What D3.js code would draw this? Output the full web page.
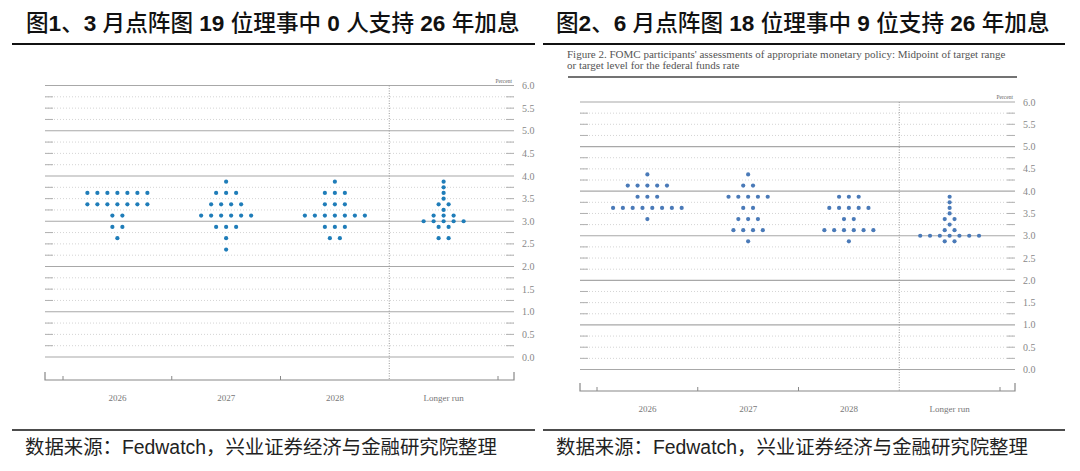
<!DOCTYPE html>
<html>
<head>
<meta charset="utf-8">
<script src="https://cdn.jsdelivr.net/npm/d3@7"></script>
<style>
  body { margin: 0; background: #fff; }
  svg { display: block; }
</style>
</head>
<body>
<div class="chart"></div>
<script>
const years = ["2026", "2027", "2028", "Longer run"]
const yTicks = [0, 0.5, 1, 1.5, 2, 2.5, 3, 3.5, 4, 4.5, 5, 5.5, 6]

// [midpoint, number of participants]
const march2026 = [[3.625, 7], [3.375, 7], [3.125, 2], [2.875, 2], [2.625, 1]]
const march2027 = [[3.875, 1], [3.625, 3], [3.375, 4], [3.125, 6], [2.875, 3], [2.625, 1], [2.375, 1]]
const march2028 = [[3.875, 1], [3.625, 3], [3.375, 3], [3.125, 7], [2.875, 3], [2.625, 2]]
const marchLonger = [[3.875, 1], [3.75, 1], [3.625, 1], [3.5, 1], [3.375, 2], [3.25, 1], [3.125, 3], [3.0, 5], [2.875, 2], [2.625, 2]]

const june2026 = [[4.375, 1], [4.125, 5], [3.875, 3], [3.625, 8], [3.375, 1]]
const june2027 = [[4.375, 1], [4.125, 2], [3.875, 5], [3.625, 2], [3.375, 3], [3.125, 4], [2.875, 1]]
const june2028 = [[3.875, 3], [3.625, 5], [3.375, 2], [3.125, 6], [2.875, 1]]
const juneLonger = [[3.875, 1], [3.75, 1], [3.625, 1], [3.5, 1], [3.375, 2], [3.25, 1], [3.125, 2], [3.0, 7], [2.875, 2]]

const title1 = [["图", false], ["1", true], ["、", false], ["3", true], [" 月点阵图 ", false], ["19", true], [" 位理事中 ", false], ["0", true], [" 人支持 ", false], ["26", true], [" 年加息", false]]
const title2 = [["图", false], ["2", true], ["、", false], ["6", true], [" 月点阵图 ", false], ["18", true], [" 位理事中 ", false], ["9", true], [" 位支持 ", false], ["26", true], [" 年加息", false]]
const figureNote = ["Figure 2. FOMC participants' assessments of appropriate monetary policy: Midpoint of target range",
                    "or target level for the federal funds rate"]
const source = "数据来源：Fedwatch，兴业证券经济与金融研究院整理"

const svg = d3.select(".chart").append("svg")
    .attr("width", 1080)
    .attr("height", 471)

const fmt = d3.format(".1f")
const gridValues = d3.range(0, 6.001, 0.25)

function DotPlot(cfg) {
    const g = svg.append("g")

    // header
    const t = g.append("text")
        .attr("x", cfg.titleX)
        .attr("y", 31)
        .attr("font-family", "'Liberation Sans', 'Noto Sans CJK SC', sans-serif")
        .attr("font-size", 22.6)
        .attr("fill", "#111")
    t.selectAll("tspan").data(cfg.title).join("tspan")
        .attr("font-weight", d => d[1] ? "bold" : 500)
        .attr("xml:space", "preserve")
        .text(d => d[0])

    g.append("line")
        .attr("x1", cfg.ruleX[0]).attr("x2", cfg.ruleX[1])
        .attr("y1", 44).attr("y2", 44)
        .attr("stroke", "#111").attr("stroke-width", 2)

    let x = d3.scaleBand()
        .domain(years)
        .range(cfg.bandRange)
        .paddingInner(0).paddingOuter(0)

    let y = d3.scaleLinear()
        .domain([0, 6])
        .range(cfg.yRange)

    const left = cfg.plotX[0], right = cfg.plotX[1]

    // horizontal grid
    gridValues.forEach(v => {
        if (v % 1 === 0) {
            g.append("line")
                .attr("x1", left).attr("x2", right)
                .attr("y1", y(v)).attr("y2", y(v))
                .attr("stroke", "#a8a8a8").attr("stroke-width", 1.2)
        } else {
            g.append("line")
                .attr("x1", left).attr("x2", right)
                .attr("y1", y(v)).attr("y2", y(v))
                .attr("stroke", "#d4d4d4").attr("stroke-width", 1)
                .attr("stroke-dasharray", "1,2")
            g.append("line")
                .attr("x1", left).attr("x2", left + 8)
                .attr("y1", y(v)).attr("y2", y(v))
                .attr("stroke", "#b0b0b0").attr("stroke-width", 1)
            g.append("line")
                .attr("x1", right - 8).attr("x2", right)
                .attr("y1", y(v)).attr("y2", y(v))
                .attr("stroke", "#b0b0b0").attr("stroke-width", 1)
        }
    })

    g.selectAll(".ylab").data(yTicks).join("text")
        .attr("x", right + 8)
        .attr("y", d => y(d) + 3.5)
        .attr("font-family", "'Liberation Serif', serif")
        .attr("font-size", 10)
        .attr("fill", "#888")
        .text(d => fmt(d))

    g.append("text")
        .attr("x", right - 2)
        .attr("y", y(6) - 3)
        .attr("text-anchor", "end")
        .attr("font-family", "'Liberation Serif', serif")
        .attr("font-size", 5.5)
        .attr("fill", "#666")
        .text("Percent")

    // divider before longer run
    g.append("line")
        .attr("x1", x("Longer run")).attr("x2", x("Longer run"))
        .attr("y1", y(6)).attr("y2", cfg.axisY)
        .attr("stroke", "#999").attr("stroke-width", 1)
        .attr("stroke-dasharray", "1,1.5")

    // bottom axis bracket
    g.append("path")
        .attr("d", `M${left},${cfg.axisY - 8}V${cfg.axisY}H${right}V${cfg.axisY - 8}`)
        .attr("fill", "none").attr("stroke", "#888").attr("stroke-width", 1.2)
    const edges = years.map(d => x(d)).concat([x(years[3]) + x.bandwidth()])
    g.selectAll(".xtick").data(edges.filter((d, i) => i !== 3)).join("line")
        .attr("x1", d => d).attr("x2", d => d)
        .attr("y1", cfg.axisY - 4).attr("y2", cfg.axisY)
        .attr("stroke", "#888").attr("stroke-width", 1)

    g.selectAll(".xlab").data(years).join("text")
        .attr("x", d => x(d) + x.bandwidth() / 2)
        .attr("y", cfg.axisY + 21)
        .attr("text-anchor", "middle")
        .attr("font-family", "'Liberation Serif', serif")
        .attr("font-size", 9)
        .attr("fill", "#777")
        .text(d => d)

    // dots
    const dots = []
    cfg.columns.forEach((col, ci) => {
        col.forEach(([v, n]) => {
            for (let i = 0; i < n; i++) {
                dots.push({year: years[ci], v: v, off: i - (n - 1) / 2})
            }
        })
    })
    g.selectAll(".dot").data(dots).join("circle")
        .attr("cx", d => x(d.year) + x.bandwidth() / 2 + d.off * cfg.dotStep)
        .attr("cy", d => y(d.v))
        .attr("r", 2.1)
        .attr("fill", cfg.dotColor)

    // footer
    g.append("line")
        .attr("x1", cfg.ruleX[0]).attr("x2", cfg.ruleX[1])
        .attr("y1", 430).attr("y2", 430)
        .attr("stroke", "#111").attr("stroke-width", 1.5)
    g.append("text")
        .attr("x", cfg.sourceX)
        .attr("y", 454)
        .attr("font-family", "'Liberation Sans', 'Noto Sans CJK SC', sans-serif")
        .attr("font-size", 19.4)
        .attr("fill", "#222")
        .text(source)

    return g
}

DotPlot({
    title: title1, titleX: 26, ruleX: [12, 535],
    bandRange: [63, 498], plotX: [45, 514], yRange: [357, 85.5], axisY: 380,
    columns: [march2026, march2027, march2028, marchLonger],
    dotStep: 10, dotColor: "#1f7db9", sourceX: 25
})

const right = DotPlot({
    title: title2, titleX: 556, ruleX: [543, 1065],
    bandRange: [597, 1000], plotX: [580, 1015], yRange: [369.5, 102], axisY: 391,
    columns: [june2026, june2027, june2028, juneLonger],
    dotStep: 9.8, dotColor: "#4a7ab8", sourceX: 556
})

right.selectAll(".note").data(figureNote).join("text")
    .attr("x", 567)
    .attr("y", (d, i) => 58 + i * 11)
    .attr("font-family", "'Liberation Serif', serif")
    .attr("font-size", 11)
    .attr("fill", "#555")
    .text(d => d)

right.append("line")
    .attr("x1", 568).attr("x2", 1017)
    .attr("y1", 77).attr("y2", 77)
    .attr("stroke", "#444").attr("stroke-width", 1.5)
</script>
</body>
</html>
